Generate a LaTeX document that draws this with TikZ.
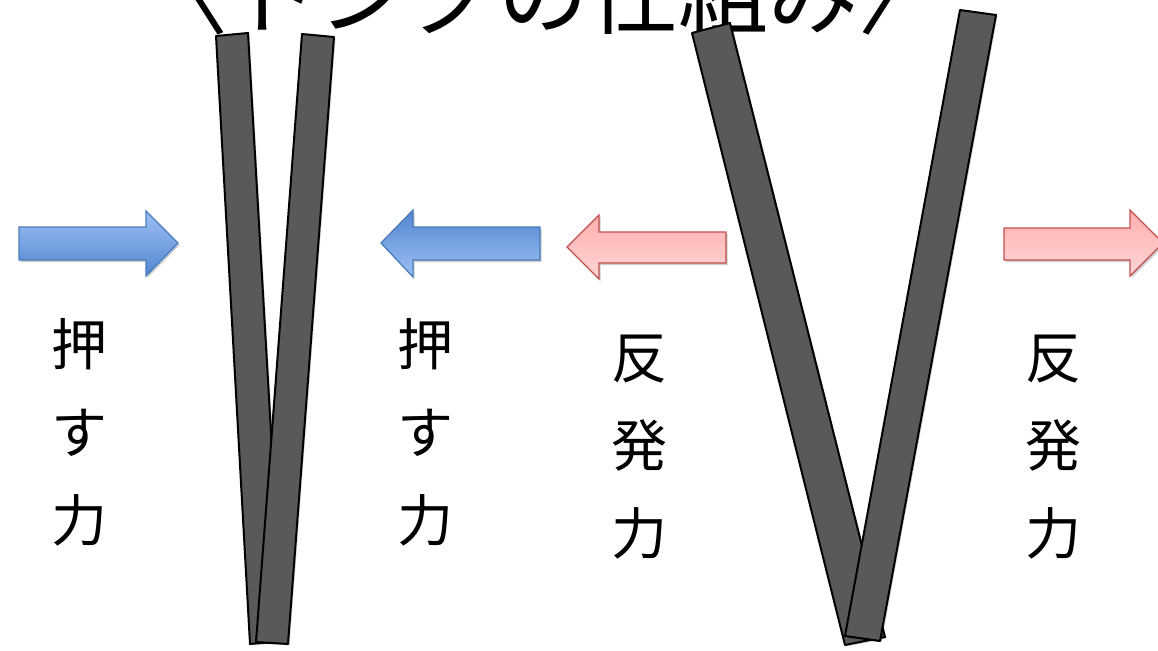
\documentclass[tikz,border=0pt]{standalone}
\usepackage{fontspec}
\newfontfamily\jp{Noto Sans CJK JP}
\usetikzlibrary{shadows}
\definecolor{barfill}{HTML}{595959}
\definecolor{bluelight}{HTML}{9DC0F5}
\definecolor{bluedark}{HTML}{5385D0}
\definecolor{blueedge}{HTML}{4A7EBB}
\definecolor{pinkdark}{HTML}{FFAEAE}
\definecolor{pinklight}{HTML}{FFD6D6}
\definecolor{pinkedge}{HTML}{C0504D}
\tikzset{
  bar/.style={fill=barfill, draw=black, line width=2pt, line join=round,
    drop shadow={shadow xshift=1.5pt, shadow yshift=-1.5pt, opacity=0.18, fill=black}},
  bluearrow/.style={draw=blueedge, line width=1.3pt,
    drop shadow={shadow xshift=1.5pt, shadow yshift=-2pt, opacity=0.2, fill=black}},
  pinkarrow/.style={draw=pinkedge, line width=1.3pt, top color=pinkdark, bottom color=pinklight,
    drop shadow={shadow xshift=1.5pt, shadow yshift=-2pt, opacity=0.2, fill=black}},
  lbl/.style={font=\jp\fontsize{56}{88}\selectfont, align=center, inner sep=0pt},
}
\begin{document}
\begin{tikzpicture}[x=1pt,y=-1pt]
\useasboundingbox (0,0) rectangle (1158,650);
\clip (0,0) rectangle (1158,650);
% title (cut off at the top)
\node[font=\jp\fontsize{90}{90}\selectfont, anchor=base, inner sep=0pt] (title) at (543,28) {〈トングの仕組み〉};
% left tongs (pressed)
\draw[bar] (216,36) -- (248,33) -- (283,641) -- (250,644) -- cycle;
\draw[bar] (302,34) -- (334,37) -- (288,644) -- (256,642) -- cycle;
% right tongs (open)
\draw[bar] (692,33) -- (730,23) -- (885,637) -- (845,645) -- cycle;
\draw[bar] (960,10) -- (996,15) -- (880,641) -- (845,636) -- cycle;
% arrows
\draw[bluearrow, top color=bluelight, bottom color=bluedark]
  (19,227) -- (146,227) -- (146,211) -- (178,243) -- (146,276) -- (146,260) -- (19,260) -- cycle;
\draw[bluearrow, top color=bluedark, bottom color=bluelight]
  (540,227) -- (413,227) -- (413,210) -- (381,243) -- (413,277) -- (413,260) -- (540,260) -- cycle;
\draw[pinkarrow]
  (726,232) -- (599,232) -- (599,215) -- (567,247) -- (599,279) -- (599,263) -- (726,263) -- cycle;
\draw[pinkarrow]
  (1004,228) -- (1130,228) -- (1130,210) -- (1163,243) -- (1130,276) -- (1130,260) -- (1004,260) -- cycle;
% labels
\node[lbl] (push1) at (79,432) {押\\す\\力};
\node[lbl] (push2) at (425,432) {押\\す\\力};
\node[lbl] (rep1) at (639,447) {反\\発\\力};
\node[lbl] (rep2) at (1053,447) {反\\発\\力};
\end{tikzpicture}
\end{document}
